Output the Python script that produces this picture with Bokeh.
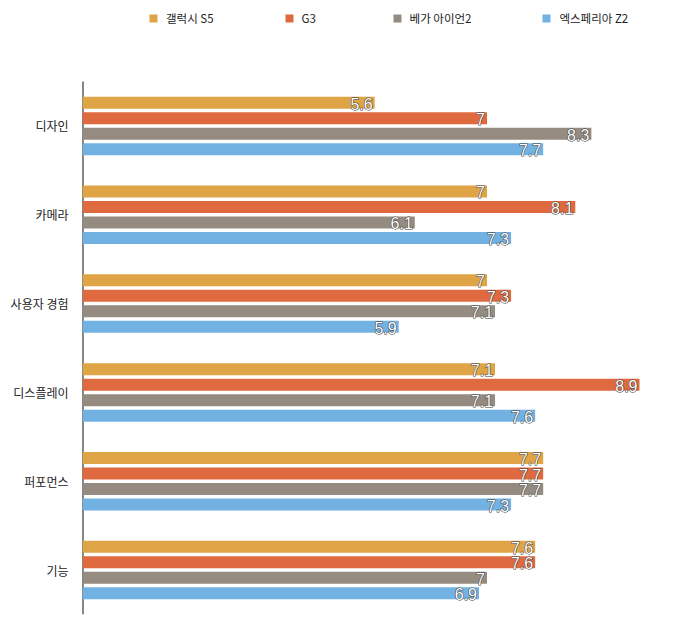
from bokeh.plotting import figure
from bokeh.models import ColumnDataSource, Range1d, Legend, LegendItem, FixedTicker
from bokeh.core.properties import value
from bokeh.embed import file_html
from bokeh.resources import INLINE

categories = ["디자인", "카메라", "사용자 경험", "디스플레이", "퍼포먼스", "기능"]
series_names = ["갤럭시 S5", "G3", "베가 아이언2", "엑스페리아 Z2"]
galaxy_s5 = [5.6, 7, 7, 7.1, 7.7, 7.6]
g3 = [7, 8.1, 7.3, 8.9, 7.7, 7.6]
vega_iron2 = [8.3, 6.1, 7.1, 7.1, 7.7, 7]
xperia_z2 = [7.7, 7.3, 5.9, 7.6, 7.3, 6.9]

colors = ["#DEA446", "#E06A40", "#958B80", "#72B2E2"]
offsets = [0.262, 0.087, -0.087, -0.262]
series = [galaxy_s5, g3, vega_iron2, xperia_z2]

X0 = 1.96
N = len(categories)
centers = [N - i - 0.5 for i in range(N)]

def fmt(v):
    return ("%g" % v)

p = figure(width=700, height=620, output_backend="svg", toolbar_location=None,
           y_range=Range1d(0, N * 614 / 533),
           x_range=Range1d(X0, 9.635),
           min_border_left=82, min_border_right=2, min_border_top=0, min_border_bottom=6)

p.outline_line_color = None
p.xgrid.visible = False
p.ygrid.visible = False
p.xaxis.visible = False
p.yaxis.ticker = FixedTicker(ticks=centers)
p.yaxis.major_label_overrides = {c: name for c, name in zip(centers, categories)}
p.yaxis.axis_line_color = None
p.yaxis.major_tick_line_color = None
p.yaxis.minor_tick_line_color = None
p.yaxis.major_tick_out = 0
p.yaxis.major_label_standoff = 14
p.yaxis.major_label_text_font = "Noto Sans CJK KR"
p.yaxis.major_label_text_font_size = "12px"
p.yaxis.major_label_text_color = "#222222"

# vertical axis line spanning the category area
p.segment(x0=[X0], y0=[0], x1=[X0], y1=[N], line_color="#111111", line_width=2)

items = []
for name, vals, col, off in zip(series_names, series, colors, offsets):
    ys = [c + off for c in centers]
    src = ColumnDataSource(dict(y=ys, val=vals, lab=[fmt(v) for v in vals]))
    r = p.hbar(y="y", right="val", left=X0, height=0.135,
               fill_color=col, line_color=None, source=src)
    p.text(x="val", y="y", text="lab", source=src,
           text_align="right", text_baseline="middle", x_offset=-2, y_offset=1,
           text_color="#3a3a3a", text_font=value("Liberation Sans"), text_font_size="16px",
           text_outline_color="#3a3a3a")
    p.text(x="val", y="y", text="lab", source=src,
           text_align="right", text_baseline="middle", x_offset=-2, y_offset=1,
           text_color="white", text_font=value("Liberation Sans"), text_font_size="16px")
    items.append(LegendItem(label=name, renderers=[r]))

legend = Legend(items=items, orientation="horizontal", location=(66, 586),
                glyph_width=10, glyph_height=10, label_standoff=8, spacing=70,
                padding=0, margin=0, border_line_color=None, background_fill_alpha=0,
                label_text_font="Noto Sans CJK KR", label_text_font_size="11.5px",
                label_text_color="#222222", label_height=20)
p.add_layout(legend, "center")

open("out.html", "w").write(file_html(p, INLINE))
